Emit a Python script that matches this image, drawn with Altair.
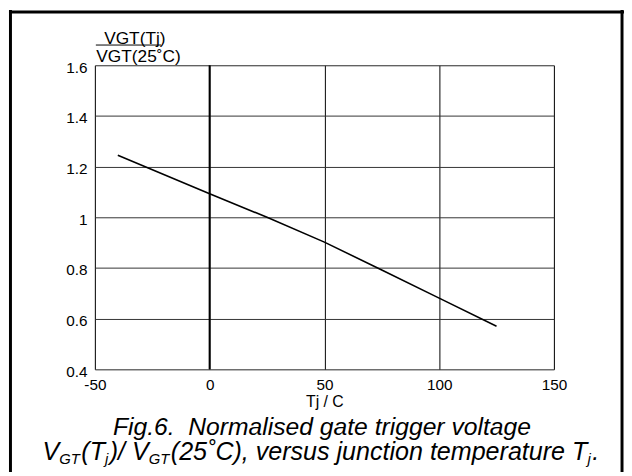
import altair as alt
import pandas as pd

# Data
temp = [-40, 0, 25, 50, 75, 100, 125]
ratio = [1.245, 1.093, 1.0, 0.902, 0.792, 0.681, 0.57]
x_ticks = [-50, 0, 50, 100, 150]
y_ticks = [0.4, 0.6, 0.8, 1.0, 1.2, 1.4, 1.6]

FONT = "Liberation Sans"
W, H = 465, 308

df = pd.DataFrame({"temp": temp, "ratio": ratio})
one = pd.DataFrame({"a": [0]})

x_enc = alt.X("temp:Q", scale=alt.Scale(domain=[-50, 150], nice=False),
              axis=alt.Axis(values=x_ticks, title="Tj / C", grid=True, gridColor="#000000",
                            gridWidth=1, gridOpacity=1, tickSize=0, domain=False,
                            labelExpr="datum.value + ''",
                            labelFontSize=15.5, labelColor="#000000", labelFont=FONT,
                            labelPadding=8, labelFlush=False,
                            titleFont=FONT, titleFontSize=16, titleFontWeight="normal",
                            titleColor="#000000", titlePadding=1))
y_enc = alt.Y("ratio:Q", scale=alt.Scale(domain=[0.4, 1.6], nice=False, zero=False),
              axis=alt.Axis(values=y_ticks, title=None, format="~g", grid=True,
                            gridColor="#333333", gridWidth=1, gridOpacity=1, tickSize=0,
                            domain=False, labelFontSize=15.5, labelColor="#000000",
                            labelFont=FONT, labelPadding=8, labelOffset=2, labelFlush=False))

line = alt.Chart(df).mark_line(color="#000000", strokeWidth=1.6).encode(x=x_enc, y=y_enc)

zero = alt.Chart(pd.DataFrame({"temp": [0]})).mark_rule(color="#000000", strokeWidth=2).encode(
    x=alt.X("temp:Q"))


def txt(s, x, y, size, align="left", italic=False):
    return alt.Chart(one).mark_text(
        text=s, font=FONT, fontSize=size, align=align, baseline="alphabetic",
        fontStyle="italic" if italic else "normal", color="#000000"
    ).encode(x=alt.value(x), y=alt.value(y))


def rule(x1, x2, y1, y2, w=1):
    return alt.Chart(one).mark_rule(color="#000000", strokeWidth=w).encode(
        x=alt.value(x1), x2=alt.value(x2), y=alt.value(y1), y2=alt.value(y2))


layers = [line, zero]

# Y title as a fraction
layers.append(txt("VGT(Tj)", 40.5, -21.5, 17.5, align="center"))
layers.append(rule(1, 67, -20.5, -20.5, 1))
layers.append(txt("VGT(25˚C)", 1.5, -3.8, 17.5))

# Caption line 1
layers.append(txt("Fig.6.\u00a0 Normalised gate trigger voltage", 230, 375, 25,
                  align="center", italic=True))

# Caption line 2 with subscripts (advance widths in em, Arial metrics)
MAIN, SUB = 25.4, 15
base = 400
segs = [
    ("V", MAIN, 0.667), ("GT", SUB, 1.389), ("(T", MAIN, 0.944), ("j", SUB, 0.222),
    (")/ V", MAIN, 1.556), ("GT", SUB, 1.389),
    ("(25˚C), versus junction temperature T", MAIN, 16.616), ("j", SUB, 0.222), (".", MAIN, 0.278),
]
xpos = -53.0
for s, sz, em in segs:
    layers.append(txt(s, xpos, base + (4 if sz == SUB else 0), sz, italic=True))
    xpos += em * sz + (1.5 if sz == SUB else 0)

# Outer frame (left, top, right)
layers.append(rule(-85.5, -85.5, -56, 420, 3))
layers.append(rule(-87, 536, -54, -54, 3))
layers.append(rule(534, 534, -56, 420, 3))

chart = alt.layer(*layers).properties(
    width=W, height=H,
    autosize=alt.AutoSizeParams(type="none"),
    padding={"left": 88, "top": 55, "right": 71, "bottom": 101},
).configure_view(stroke="#000000", strokeWidth=1.2).configure(background="white")

chart.save("out.html", embed_options={"renderer": "svg", "actions": False})
